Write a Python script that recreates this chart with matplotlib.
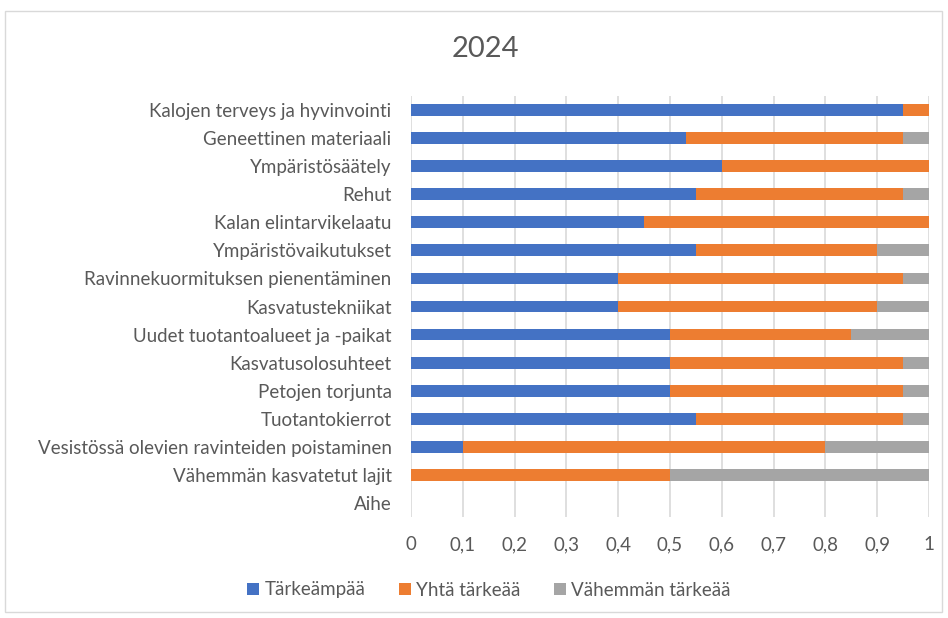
import matplotlib.pyplot as plt
from matplotlib.patches import Rectangle

# categories, top to bottom as shown
categories = [
    "Kalojen terveys ja hyvinvointi",
    "Geneettinen materiaali",
    "Ympäristösäätely",
    "Rehut",
    "Kalan elintarvikelaatu",
    "Ympäristövaikutukset",
    "Ravinnekuormituksen pienentäminen",
    "Kasvatustekniikat",
    "Uudet tuotantoalueet ja -paikat",
    "Kasvatusolosuhteet",
    "Petojen torjunta",
    "Tuotantokierrot",
    "Vesistössä olevien ravinteiden poistaminen",
    "Vähemmän kasvatetut lajit",
    "Aihe",
]
tarkeampaa = [0.95, 0.53, 0.60, 0.55, 0.45, 0.55, 0.40, 0.40, 0.50, 0.50, 0.50, 0.55, 0.10, 0.0, 0.0]
yhta_tarkeaa = [0.05, 0.42, 0.40, 0.40, 0.55, 0.35, 0.55, 0.50, 0.35, 0.45, 0.45, 0.40, 0.70, 0.50, 0.0]
vahemman = [0.0, 0.05, 0.0, 0.05, 0.0, 0.10, 0.05, 0.10, 0.15, 0.05, 0.05, 0.05, 0.20, 0.50, 0.0]
series_names = ["Tärkeämpää", "Yhtä tärkeää", "Vähemmän tärkeää"]
colors = ["#4472C4", "#ED7D31", "#A5A5A5"]
xticks = [i / 10 for i in range(11)]
xtick_labels = ["0"] + [f"0,{i}" for i in range(1, 10)] + ["1"]

plt.rcParams['font.family'] = ['Lato', 'DejaVu Sans']
text_color = "#595959"
fs = 13.5

fig = plt.figure(figsize=(9.48, 6.18), dpi=100)
fig.patches.append(Rectangle((5 / 948, 1 - 612 / 618), 937 / 948, 601 / 618,
                             transform=fig.transFigure, fill=False,
                             edgecolor="#d9d9d9", linewidth=1))
ax = fig.add_axes([411 / 948, 1 - 517 / 618, 518 / 948, 421 / 618])

y = list(range(len(categories)))
left = [0.0] * len(categories)
for vals, name, col in zip([tarkeampaa, yhta_tarkeaa, vahemman], series_names, colors):
    ax.barh(y, vals, left=left, height=0.42, color=col, label=name, zorder=3)
    left = [a + b for a, b in zip(left, vals)]

ax.set_ylim(len(categories) - 0.5, -0.5)
ax.set_xlim(0, 1)
ax.set_yticks(y)
ax.set_yticklabels(categories, fontsize=fs, color=text_color)
ax.set_xticks(xticks)
ax.set_xticklabels(xtick_labels, fontsize=fs, color=text_color)
ax.tick_params(axis='y', length=0, pad=14)
ax.tick_params(axis='x', length=0, pad=14)
ax.grid(axis='x', color="#d9d9d9", linewidth=1.2, zorder=0)
for s in ax.spines.values():
    s.set_visible(False)

fig.text(485 / 948, 1 - 49 / 618, "2024", ha='center', va='center',
         fontsize=21, color=text_color)

fig.legend(loc='center', bbox_to_anchor=(489 / 948, 1 - 590 / 618), ncol=3,
           frameon=False, fontsize=fs, handlelength=0.65, handleheight=0.65,
           handletextpad=0.3, columnspacing=1.75, labelcolor=text_color)

fig.savefig("out.png", dpi=100)
